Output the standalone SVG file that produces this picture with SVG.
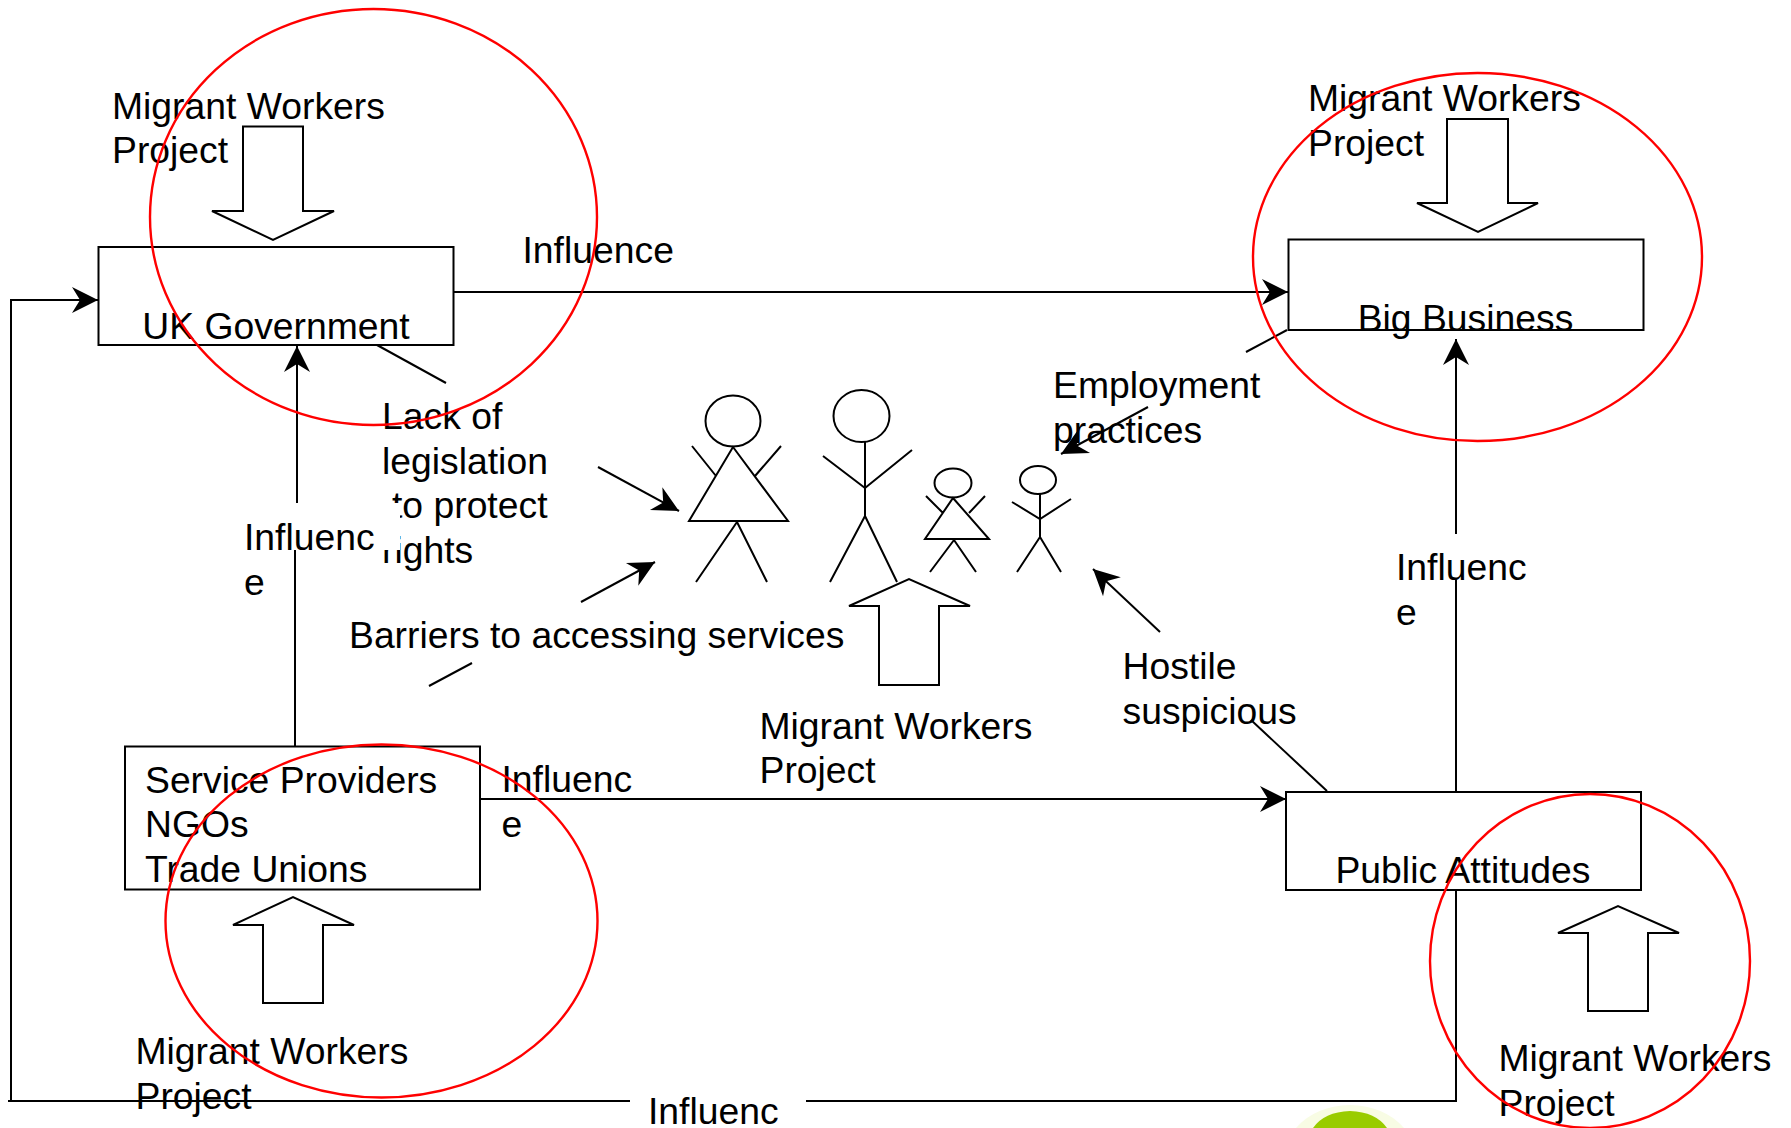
<svg xmlns="http://www.w3.org/2000/svg" width="1791" height="1128" viewBox="0 0 1791 1128">
<style>
text{font-family:"Liberation Sans",Arial,sans-serif;font-size:37.3px;fill:#000}
.b{fill:none;stroke:#000;stroke-width:2}
.c{fill:none;stroke:#000;stroke-width:2}
.a{marker-end:url(#h)}
.r{fill:none;stroke:#f00;stroke-width:2.4}
.m{text-anchor:middle}
</style>
<defs>
<marker id="h" markerUnits="userSpaceOnUse" markerWidth="28" markerHeight="28" refX="26" refY="14" orient="auto" overflow="visible"><path d="M0,1L26,14L0,27L8,14Z" fill="#000"/></marker>
</defs>
<rect width="1791" height="1128" fill="#fff"/>
<path id="blob-halo" d="M1296,1128Q1315,1106 1350,1105Q1385,1106 1404,1128Z" fill="#f8fce4"/>
<path id="blob" d="M1313,1128Q1324,1112 1350,1111Q1376,1112 1387,1128Z" fill="#99cc00"/>
<g id="connectors">
<path class="c" d="M1456,890V1101H806M630,1101H8"/>
<path class="c a" d="M11,1101V300H98"/>
<path class="c a" d="M453,292H1288"/>
<path class="c a" d="M480,799H1286"/>
<path class="c" d="M295,747V550"/>
<path class="c a" d="M297,503V346"/>
<path class="c" d="M1456,792V580"/>
<path class="c a" d="M1456,534V339"/>
<path class="c" d="M377,345L446,383"/>
<path class="c a" d="M598,467L679,511"/>
<path class="c a" d="M581,602L655,562"/>
<path class="c" d="M429,686L472,663"/>
<path class="c" d="M1246,352L1287,330"/>
<path class="c a" d="M1148,407L1061,454"/>
<path class="c a" d="M1160,632L1093,569"/>
<path class="c" d="M1251,720L1327,791"/>
</g>
<g id="lack-label"><text x="382" y="429">Lack of</text><text x="382" y="474">legislation</text><text x="392" y="518">to protect</text><text x="382" y="563">rights</text></g>
<rect id="influence-mask" x="240" y="503" width="160" height="47" fill="#fff"/>
<g id="uk-government"><rect class="b" x="98.500" y="247" width="355" height="98"/><text class="m" x="276" y="339">UK Government</text></g>
<g id="big-business"><rect class="b" x="1288.500" y="239.500" width="355" height="90.500"/><text class="m" x="1465.500" y="331">Big Business</text></g>
<g id="service-providers"><rect class="b" x="125" y="746.500" width="355" height="143"/><text x="145" y="793">Service Providers</text><text x="145" y="837">NGOs</text><text x="145" y="882">Trade Unions</text></g>
<g id="public-attitudes"><rect class="b" x="1286" y="792" width="355" height="98"/><text class="m" x="1463" y="883">Public Attitudes</text></g>
<g id="influence-labels">
<text x="522.500" y="263">Influence</text>
<text x="244" y="550">Influenc</text><text x="244" y="595">e</text>
<text x="1396" y="580">Influenc</text><text x="1396" y="625">e</text>
<text x="501.500" y="792">Influenc</text><text x="501.500" y="837">e</text>
<text x="648" y="1124">Influenc</text>
</g>
<g id="issue-labels">
<text x="349" y="648">Barriers to accessing services</text>
<text x="1053" y="398">Employment</text><text x="1053" y="443">practices</text>
<text x="1122.500" y="679">Hostile</text><text x="1122.500" y="724">suspicious</text>
</g>
<g id="project-1"><path class="b" d="M243,126.500H303V211H334L273,240L212,211H243Z"/><text x="112" y="119">Migrant Workers</text><text x="112" y="163">Project</text><ellipse class="r" cx="373.500" cy="217" rx="223.500" ry="208"/></g>
<g id="project-2"><path class="b" d="M1447,119H1508V203H1538L1478,232L1417,203H1447Z"/><text x="1308" y="111">Migrant Workers</text><text x="1308" y="156">Project</text><ellipse class="r" cx="1477.500" cy="257" rx="224.500" ry="184"/></g>
<g id="project-3"><path class="b" d="M879,685H939V606H970L909,579L849,606H879Z"/><text x="759.500" y="739">Migrant Workers</text><text x="759.500" y="783">Project</text></g>
<g id="project-4"><path class="b" d="M263,1003H323V925H354L293,897L233,925H263Z"/><text x="135.500" y="1064">Migrant Workers</text><text x="135.500" y="1109">Project</text><ellipse class="r" cx="381.500" cy="921" rx="216" ry="176.500"/></g>
<g id="project-5"><path class="b" d="M1588,1011H1648V933H1679L1618,906L1558,933H1588Z"/><text x="1498.500" y="1071">Migrant Workers</text><text x="1498.500" y="1116">Project</text><ellipse class="r" cx="1590" cy="961" rx="160" ry="167"/></g>
<g id="woman-1"><ellipse class="b" cx="733" cy="421" rx="27.500" ry="25.500"/><path class="b" d="M733,447L788,521H689ZM692,446L716,476M781,446L755,476M737,522L696,582M737,522L767,582"/></g>
<g id="man-1"><ellipse class="b" cx="861.500" cy="416" rx="28" ry="26"/><path class="b" d="M865,442V516M823,456L865,488L912,450M865,516L830,582M865,516L897,582"/></g>
<g id="woman-2"><ellipse class="b" cx="953" cy="483" rx="18.500" ry="14.500"/><path class="b" d="M953,498L989,539H925ZM926,496L943,513M985,496L969,513M954,540L930,572M954,540L976,572"/></g>
<g id="man-2"><ellipse class="b" cx="1038" cy="480" rx="18" ry="14"/><path class="b" d="M1040,494V537M1012,502L1040,519L1071,499M1040,537L1017,572M1040,537L1061,572"/></g>
</svg>
